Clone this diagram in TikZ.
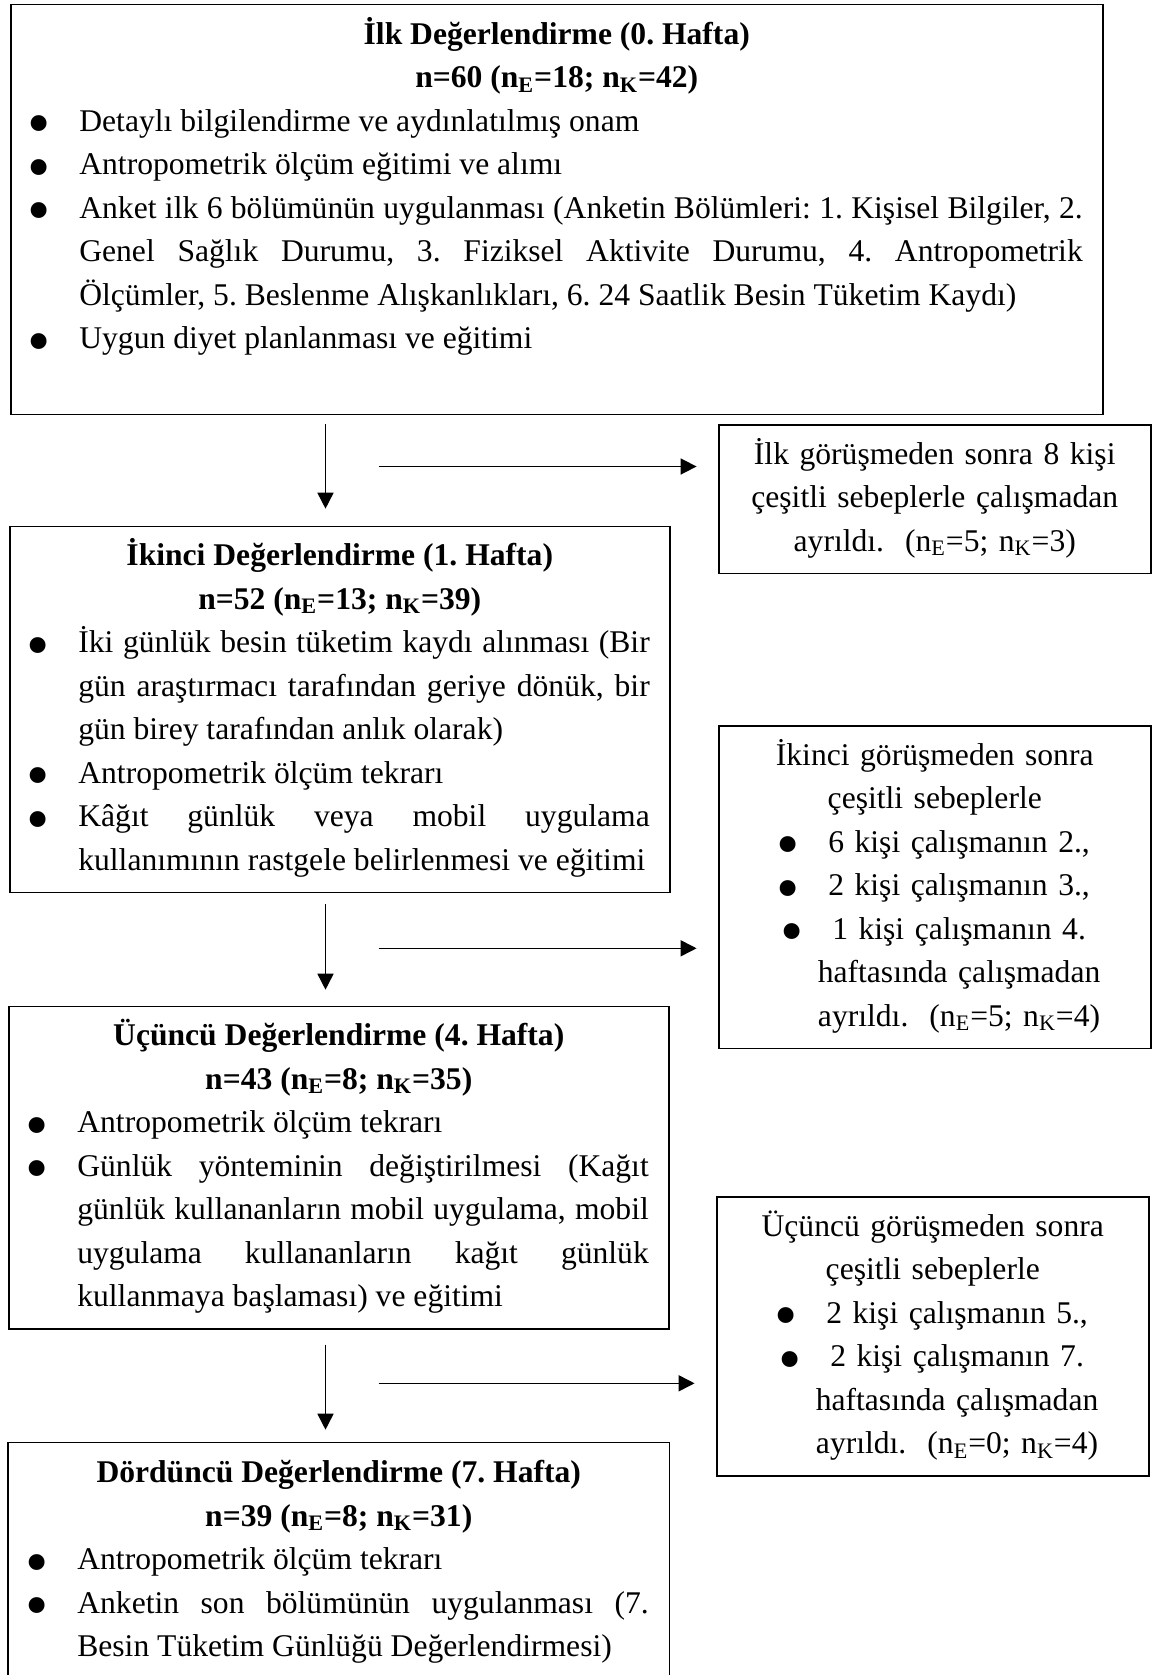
\documentclass[tikz,border=0pt]{standalone}
\usepackage{fontspec}
\setmainfont{Liberation Serif}
\usepackage{graphicx}
\usepackage{tikz}
\usetikzlibrary{arrows.meta,calc}

\hyphenpenalty=10000
\exhyphenpenalty=10000

\newcommand{\nE}{n\textsubscript{E}}
\newcommand{\nK}{n\textsubscript{K}}
\newcommand{\imi}{\raisebox{-0.46em}[0pt][0pt]{\scalebox{2.1}{\textbullet}}}
\newenvironment{madde}{\begin{list}{\imi}{%
    \setlength{\leftmargin}{24.3pt}\setlength{\labelwidth}{11.6pt}%
    \setlength{\labelsep}{14.35pt}\setlength{\itemindent}{0pt}%
    \setlength{\itemsep}{0pt}\setlength{\parsep}{0pt}%
    \setlength{\topsep}{0pt}\setlength{\partopsep}{0pt}}}{\end{list}}

\tikzset{
  >={Triangle[length=8pt,width=8pt]},
  kenar/.style={line width=0.75pt},
  kutu/.style={kenar, anchor=north west, inner xsep=10pt, inner ysep=4.5pt,
               font={\fontsize{15.8pt}{21.75pt}\selectfont\frenchspacing}},
  solkutu/.style={kutu, draw, align=justify, text width=310pt},
  sagkutu/.style={kutu, draw, align=center, text width=196pt},
  ok/.style={->, line width=0.8pt}
}

\begin{document}
\begin{tikzpicture}[x=0.5pt,y=-0.5pt]
  \useasboundingbox (0,0) rectangle (1152,1675);

  % Evaluation boxes on the left.
  \node[solkutu, text width=526pt] (ilk) at (10,4) {%
    {\centering\bfseries\strut İlk Değerlendirme (0. Hafta)\\ n=60 (\nE=18; \nK=42)\par}
    \begin{madde}
      \item Detaylı bilgilendirme ve aydınlatılmış onam
      \item Antropometrik ölçüm eğitimi ve alımı
      \item Anket ilk 6 bölümünün uygulanması (Anketin Bölümleri: 1. Kişisel Bilgiler, 2.\linebreak
            Genel Sağlık Durumu, 3. Fiziksel Aktivite Durumu, 4. Antropometrik\linebreak
            Ölçümler, 5. Beslenme Alışkanlıkları, 6. 24 Saatlik Besin Tüketim Kaydı)
      \item Uygun diyet planlanması ve eğitimi
    \end{madde}
    \strut};

  \node[solkutu] (ikinci) at (9,525.7) {%
    {\centering\bfseries\strut İkinci Değerlendirme (1. Hafta)\\ n=52 (\nE=13; \nK=39)\par}
    \begin{madde}
      \item İki günlük besin tüketim kaydı alınması (Bir\linebreak
            gün araştırmacı tarafından geriye dönük, bir\linebreak
            gün birey tarafından anlık olarak)
      \item Antropometrik ölçüm tekrarı
      \item Kâğıt günlük veya mobil uygulama\linebreak
            kullanımının rastgele belirlenmesi ve eğitimi\strut
    \end{madde}};

  \node[solkutu] (ucuncu) at (8,1005.7) {%
    {\centering\bfseries\strut Üçüncü Değerlendirme (4. Hafta)\\ n=43 (\nE=8; \nK=35)\par}
    \begin{madde}
      \item Antropometrik ölçüm tekrarı
      \item Günlük yönteminin değiştirilmesi (Kağıt\linebreak
            günlük kullananların mobil uygulama, mobil\linebreak
            uygulama kullananların kağıt günlük\linebreak
            kullanmaya başlaması) ve eğitimi\strut
    \end{madde}};

  \node[kutu, align=justify, text width=310pt] (dorduncu) at (8,1442.7) {%
    {\centering\bfseries\strut Dördüncü Değerlendirme (7. Hafta)\\ n=39 (\nE=8; \nK=31)\par}
    \begin{madde}
      \item Antropometrik ölçüm tekrarı
      \item Anketin son bölümünün uygulanması (7.\linebreak
            Besin Tüketim Günlüğü Değerlendirmesi)\strut
    \end{madde}};
  % last box runs off the page, no bottom line
  \draw[kenar] (dorduncu.south west) -- (dorduncu.north west)
    -- (dorduncu.north east) -- (dorduncu.south east);

  % Drop-out boxes on the right.
  \node[sagkutu] (ayr1) at (718,424) {%
    {\centering\strut İlk görüşmeden sonra 8 kişi\\ çeşitli sebeplerle çalışmadan\\
    ayrıldı.\ \ (\nE=5; \nK=3)\strut\par}};

  \node[sagkutu] (ayr2) at (718,725) {%
    {\centering\strut İkinci görüşmeden sonra\\ çeşitli sebeplerle\par
    \begin{madde}\centering
      \item 6 kişi çalışmanın 2.,
      \item 2 kişi çalışmanın 3.,
      \item 1 kişi çalışmanın 4.\\ haftasında çalışmadan\\ ayrıldı.\ \ (\nE=5; \nK=4)\strut
    \end{madde}\par}};

  \node[sagkutu] (ayr3) at (716,1196) {%
    {\centering\strut Üçüncü görüşmeden sonra\\ çeşitli sebeplerle\par
    \begin{madde}\centering
      \item 2 kişi çalışmanın 5.,
      \item 2 kişi çalışmanın 7.\\ haftasında çalışmadan\\ ayrıldı.\ \ (\nE=0; \nK=4)\strut
    \end{madde}\par}};

  % Arrows.
  \coordinate (ax) at (325.5,0);
  \coordinate (hx) at (378.5,0);
  \coordinate (y1) at (0,466.5);
  \coordinate (y2) at (0,948.3);
  \coordinate (y3) at (0,1383.3);

  \draw[ok, shorten <=4.5pt, shorten >=8.5pt] (ax |- ilk.south) -- (ax |- ikinci.north);
  \draw[ok, shorten <=5.5pt, shorten >=8pt] (ax |- ikinci.south) -- (ax |- ucuncu.north);
  \draw[ok, shorten <=7.5pt, shorten >=6.5pt] (ax |- ucuncu.south) -- (ax |- dorduncu.north);

  \draw[ok, shorten >=10.7pt] (hx |- y1) -- (ayr1.west |- y1);
  \draw[ok, shorten >=10.7pt] (hx |- y2) -- (ayr2.west |- y2);
  \draw[ok, shorten >=10.7pt] (hx |- y3) -- (ayr3.west |- y3);
\end{tikzpicture}
\end{document}
